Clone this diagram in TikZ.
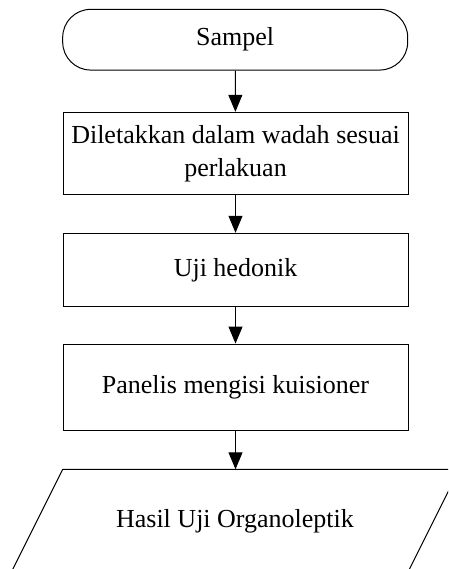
\documentclass[tikz,border=0pt]{standalone}
\usepackage{fontspec}
\setmainfont{Liberation Serif}
\usetikzlibrary{arrows.meta}
\begin{document}
\begin{tikzpicture}[x=1pt,y=-1pt,
  every node/.style={font=\fontsize{26}{33}\selectfont},
  stepbox/.style={draw, line width=1pt, rectangle, minimum width=345pt, inner sep=0pt, align=center},
  termbox/.style={draw, line width=1pt, rectangle, rounded corners=28pt, minimum width=345pt, minimum height=60.7pt, inner sep=0pt},
  arr/.style={line width=1pt, -{Triangle[length=17pt,width=14pt]}}]
\clip (0,0) rectangle (448,569);
\useasboundingbox (0,0) rectangle (448,569);
\node[termbox] (start) at (235.2,39.7) {Sampel};
\node[stepbox, minimum height=82pt] (s1) at (235.5,153.3) {Diletakkan dalam wadah sesuai\\perlakuan};
\node[stepbox, minimum height=73.4pt] (s2) at (235.5,270) {Uji hedonik};
\node[stepbox, minimum height=86.7pt] (s3) at (235.5,387.4) {Panelis mengisi kuisioner};
\coordinate (ptl) at (62.7,469.3);
\coordinate (ptr) at (459.3,469.3);
\coordinate (pbr) at (406.8,574.3);
\coordinate (pbl) at (10.2,574.3);
\coordinate (ptop) at (235.5,469.3);
\draw[line width=1pt] (ptl) -- (ptr) -- (pbr) -- (pbl) -- cycle;
\node (out) at (235,521.7) {Hasil Uji Organoleptik};
\draw[arr] (start) -- (s1);
\draw[arr] (s1) -- (s2);
\draw[arr] (s2) -- (s3);
\draw[arr] (s3) -- (ptop);
\end{tikzpicture}
\end{document}
